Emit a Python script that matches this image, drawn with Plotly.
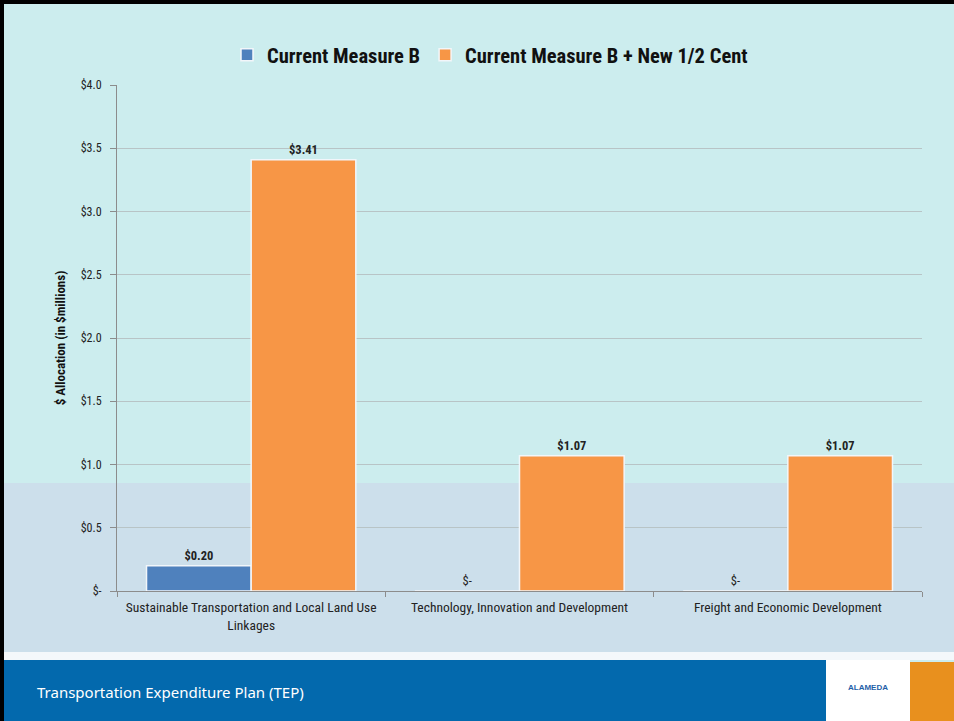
import plotly.graph_objects as go

categories = ["Sustainable Transportation and Local Land Use<br>Linkages",
              "Technology, Innovation and Development",
              "Freight and Economic Development"]
current_b = [0.20, 0.0, 0.0]
current_b_new = [3.41, 1.07, 1.07]
series_names = ["Current Measure B", "Current Measure B + New 1/2 Cent"]
tick_vals = [0, 0.5, 1.0, 1.5, 2.0, 2.5, 3.0, 3.5, 4.0]
tick_text = ["$-", "$0.5", "$1.0", "$1.5", "$2.0", "$2.5", "$3.0", "$3.5", "$4.0"]

NARROW = "Liberation Sans Narrow, Arial Narrow, Roboto Condensed, sans-serif"
W, H = 954, 721
L, R, T, B = 117, 922, 85, 591


def px(x):
    return (x - L) / (R - L)


def py(y):
    return (B - y) / (B - T)


def label(v):
    return "<b>$%.2f</b>" % v if v > 0 else "$-"


fig = go.Figure()
fig.add_bar(x=categories, y=current_b, name=series_names[0],
            marker=dict(color="#4F81BD", line=dict(color="#F2F6FA", width=1.5)),
            text=[label(v) for v in current_b], textposition="outside",
            textfont=dict(family=NARROW, size=12.5, color="#222"), cliponaxis=False)
fig.add_bar(x=categories, y=current_b_new, name=series_names[1],
            marker=dict(color="#F79646", line=dict(color="#F2F6FA", width=1.5)),
            text=[label(v) for v in current_b_new], textposition="outside",
            textfont=dict(family=NARROW, size=12.5, color="#222"), cliponaxis=False)

shapes = [
    dict(type="rect", xref="paper", yref="paper", x0=px(0), x1=px(W), y0=py(652), y1=py(483),
         fillcolor="#CCDFEB", line_width=0, layer="below"),
    dict(type="rect", xref="paper", yref="paper", x0=px(0), x1=px(W), y0=py(660), y1=py(652),
         fillcolor="#F4F8FB", line_width=0, layer="below"),
    dict(type="rect", xref="paper", yref="paper", x0=px(0), x1=px(826), y0=py(H), y1=py(660),
         fillcolor="#0369AD", line_width=0, layer="below"),
    dict(type="rect", xref="paper", yref="paper", x0=px(826), x1=px(910), y0=py(H), y1=py(660),
         fillcolor="#FFFFFF", line_width=0, layer="below"),
    dict(type="rect", xref="paper", yref="paper", x0=px(910), x1=px(W), y0=py(H), y1=py(662),
         fillcolor="#E8901E", line_width=0, layer="below"),
    dict(type="rect", xref="paper", yref="paper", x0=px(0), x1=px(W), y0=py(4), y1=py(0),
         fillcolor="#000000", line_width=0, layer="above"),
    dict(type="rect", xref="paper", yref="paper", x0=px(0), x1=px(4), y0=py(H), y1=py(0),
         fillcolor="#000000", line_width=0, layer="above"),
]

annotations = [
    dict(text="Transportation Expenditure Plan (TEP)", xref="paper", yref="paper",
         x=px(35), y=py(692), xanchor="left", yanchor="middle", showarrow=False,
         font=dict(family="Noto Sans, sans-serif", size=15, color="white")),
    dict(text="<b>ALAMEDA</b>", xref="paper", yref="paper",
         x=px(868), y=py(687), xanchor="center", yanchor="middle", showarrow=False,
         font=dict(family="Liberation Sans, sans-serif", size=8, color="#1F5FA8")),
]

fig.update_layout(
    width=W, height=H,
    margin=dict(l=L, r=W - R, t=T, b=H - B),
    paper_bgcolor="#CCEDEE",
    plot_bgcolor="rgba(0,0,0,0)",
    barmode="group", bargap=0.22, bargroupgap=0,
    shapes=shapes, annotations=annotations,
    showlegend=True,
    legend=dict(orientation="h", x=px(490), y=py(55), xanchor="center", yanchor="middle",
                bgcolor="rgba(0,0,0,0)",
                font=dict(family=NARROW, size=20.5, color="#111", weight="bold"),
                itemwidth=30, tracegroupgap=0),
    font=dict(family=NARROW, color="#222"),
)
fig.update_xaxes(showline=True, linecolor="#8C8C8C", linewidth=1,
                 ticks="outside", tickson="boundaries", ticklen=5, tickcolor="#8C8C8C",
                 ticklabelstandoff=4,
                 tickfont=dict(family=NARROW, size=13.5, color="#222"))
fig.update_yaxes(range=[0, 4], tickvals=tick_vals, ticktext=tick_text,
                 showline=True, linecolor="#8C8C8C", linewidth=1,
                 ticks="outside", ticklen=6, tickcolor="#8C8C8C",
                 ticklabelstandoff=6,
                 gridcolor="#B8C4C6", gridwidth=1, zeroline=False,
                 tickfont=dict(family=NARROW, size=12, color="#222"),
                 title=dict(text="<b>$ Allocation (in $millions)</b>",
                            font=dict(family=NARROW, size=13, color="#111"), standoff=12))

fig.write_html("out.html", config={"displayModeBar": False},
               post_script="document.body.style.margin='0';document.body.style.padding='0';")
